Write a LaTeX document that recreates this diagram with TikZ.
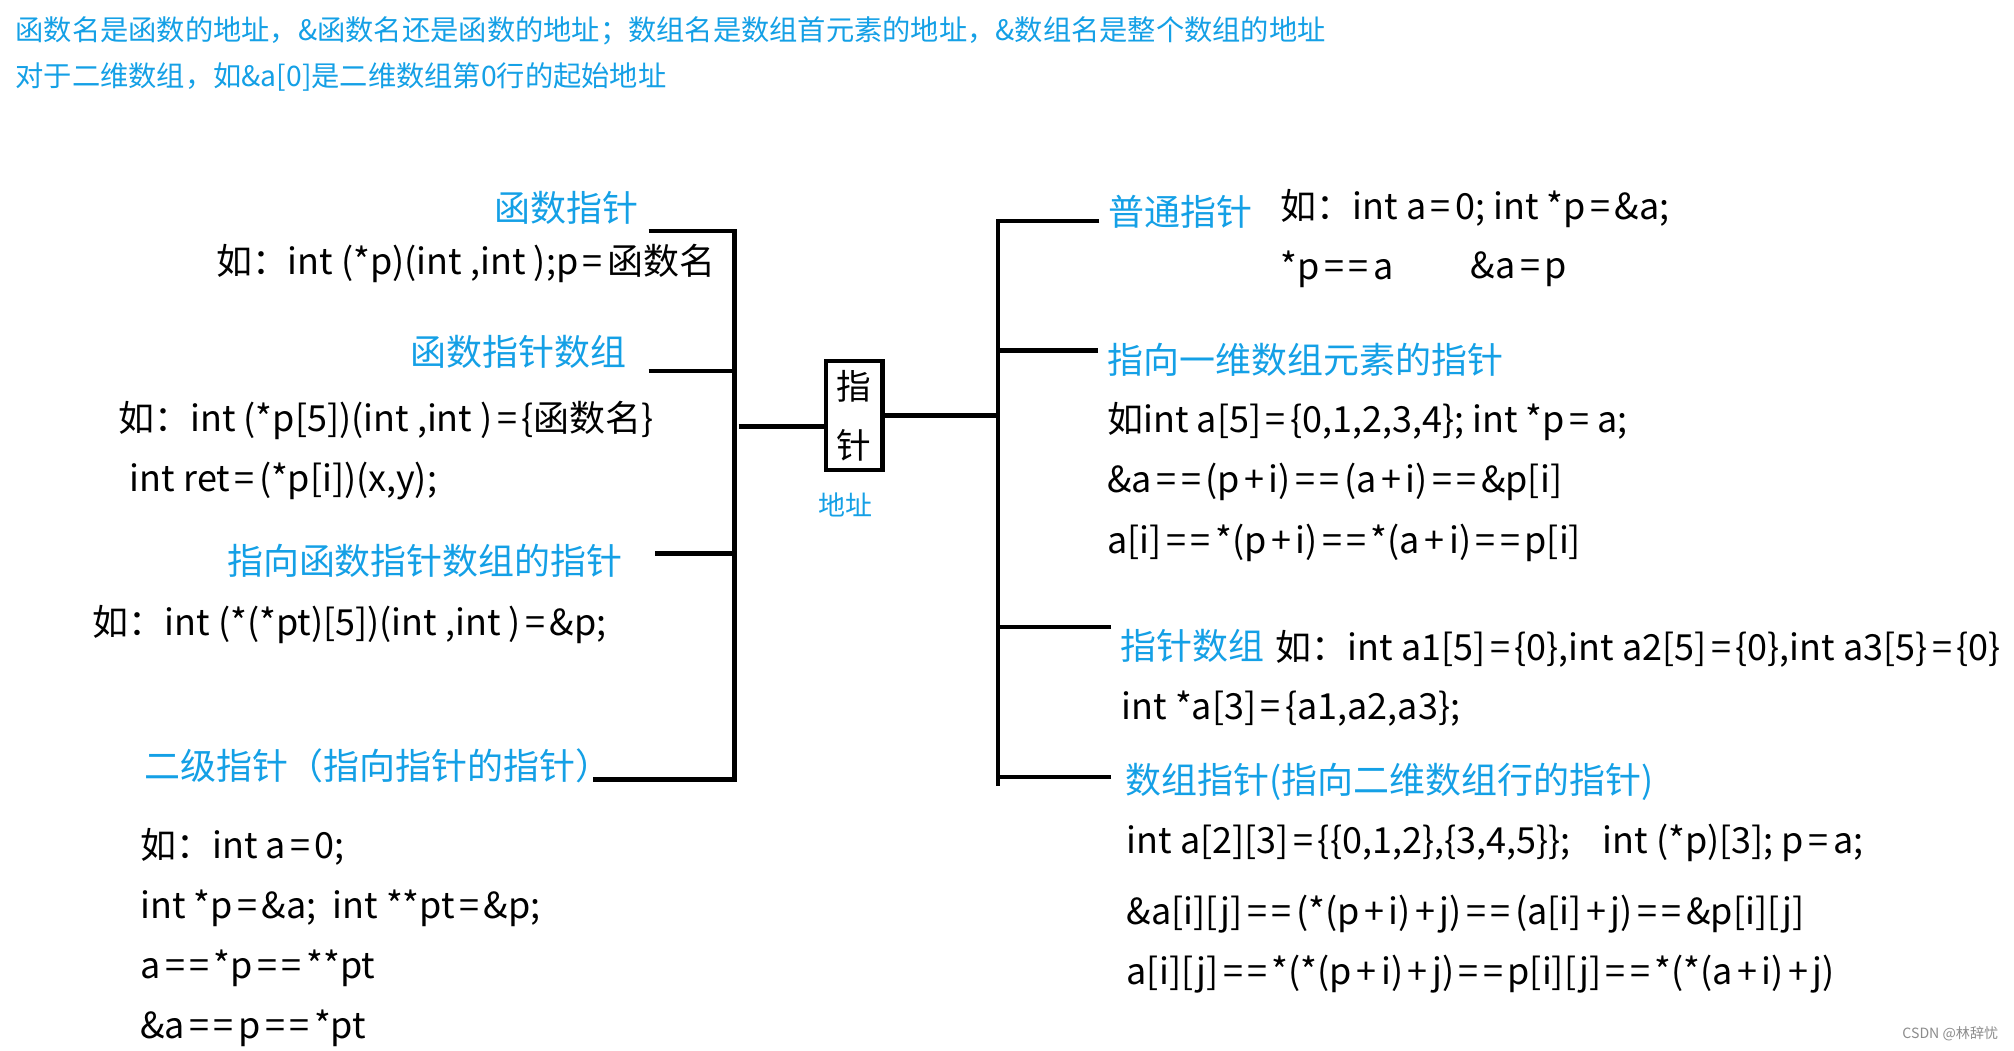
\documentclass[tikz,border=0pt]{standalone}
\usepackage{fontspec}
\setmainfont{Noto Sans CJK SC}
\definecolor{cblue}{RGB}{20,160,230}
\newXeTeXintercharclass\myeqclass
\XeTeXcharclass`\= \myeqclass
\XeTeXcharclass`\+ \myeqclass
\XeTeXinterchartoks 0 \myeqclass = {\hspace{3.5pt}}
\XeTeXinterchartoks \myeqclass 0 = {\hspace{3.5pt}}
\XeTeXinterchartoks \myeqclass \myeqclass = {\hspace{3.5pt}}
\newcommand\wideeq{\XeTeXinterchartokenstate=1 }
\begin{document}
\begin{tikzpicture}[x=1pt,y=1pt,
  tx/.style={anchor=west, inner sep=0pt, yshift=-2.5pt, font=\fontsize{28}{30}\selectfont\wideeq},
  bl/.style={anchor=west, inner sep=0pt, text=cblue, font=\fontsize{28}{30}\selectfont},
  hd/.style={anchor=west, inner sep=0pt, text=cblue, font=\fontsize{22}{24}\selectfont},
  ln/.style={line width=3.5pt}]
\useasboundingbox[fill=white] (0,0) rectangle (1568,-818);
% header
\node[hd] (h1) at (12,-24) {函数名是函数的地址，\&函数名还是函数的地址；数组名是数组首元素的地址，\&数组名是整个数组的地址};
\node[hd] (h2) at (12,-60) {对于二维数组，如\&a[0]是二维数组第0行的起始地址};
% left side
\node[bl, anchor=east] (l1t) at (497,-162) {函数指针};
\node[tx] (l1e) at (168,-203) {如：int (*p)(int ,int );p=函数名};
\node[bl, anchor=east] (l2t) at (488,-274) {函数指针数组};
\node[tx] (l2e) at (92,-325) {如：int (*p[5])(int ,int )=\{函数名\}};
\node[tx] (l2f) at (101,-372) {int ret=(*p[i])(x,y);};
\node[bl, anchor=east] (l3t) at (485,-437) {指向函数指针数组的指针};
\node[tx] (l3e) at (72,-484) {如：int (*(*pt)[5])(int ,int )=\&p;};
\node[bl] (l4t) at (112,-596) {二级指针（指向指针的指针）};
\node[tx] (l4e1) at (109,-657) {如：int a=0;};
\node[tx] (l4e2) at (109,-705) {int *p=\&a;\ \ int **pt=\&p;};
\node[tx] (l4e3) at (109,-751) {a==*p==**pt};
\node[tx] (l4e4) at (109,-798) {\&a==p==*pt};
% center box
\node[draw, line width=3.5pt, minimum width=44pt, minimum height=85pt, inner sep=0pt,
      align=center, font=\fontsize{27}{46}\selectfont] (box) at (665,-323.5) {指\\针};
\node[font=\fontsize{21}{24}\selectfont, text=cblue, inner sep=0pt] (addr) at (658,-393) {地址};
% right side
\node[bl] (r1t) at (863,-165) {普通指针};
\node[tx] (r1e) at (997,-160) {如：int a=0; int *p=\&a;};
\node[tx] (r1f) at (997,-207) {*p==a};
\node[tx] (r1g) at (1145,-207) {\&a=p};
\node[bl] (r2t) at (862,-280) {指向一维数组元素的指针};
\node[tx] (r2e) at (862,-326) {如int a[5]=\{0,1,2,3,4\}; int *p= a;};
\node[tx] (r2f) at (862,-373) {\&a==(p+i)==(a+i)==\&p[i]};
\node[tx] (r2g) at (862,-420) {a[i]==*(p+i)==*(a+i)==p[i]};
\node[bl] (r3t) at (872,-503) {指针数组};
\node[tx] (r3e) at (993,-503) {如：int a1[5]=\{0\},int a2[5]=\{0\},int a3[5\}=\{0\}};
\node[tx] (r3f) at (873,-549) {int *a[3]=\{a1,a2,a3\};};
\node[bl] (r4t) at (876,-609) {数组指针(指向二维数组行的指针)};
\node[tx] (r4e) at (877,-654) {int a[2][3]=\{\{0,1,2\},\{3,4,5\}\};\ \ \ \ int (*p)[3]; p=a;};
\node[tx] (r4f) at (877,-709) {\&a[i][j]==(*(p+i)+j)==(a[i]+j)==\&p[i][j]};
\node[tx] (r4g) at (877,-756) {a[i][j]==*(*(p+i)+j)==p[i][j]==*(*(a+i)+j)};
\node[anchor=east, inner sep=0pt, text=black!45, font=\fontsize{11}{12}\selectfont] (wm) at (1556,-805) {CSDN @林辞忧};
% left bracket
\coordinate (vLt) at (572,-180);
\coordinate (vLb) at (572,-607);
\coordinate (L1) at (505,-180);
\coordinate (L2) at (505,-289);
\coordinate (L3) at (510,-431);
\coordinate (L4) at (462,-607);
\coordinate (LJ) at (575,-332);
\draw[ln] (L1) -- (vLt) -- (vLb) -- (L4);
\draw[ln] (L2) -- (L2 -| vLt);
\draw[ln] (L3) -- (L3 -| vLt);
\draw[ln] (LJ) -- (LJ -| box.west);
% right bracket
\coordinate (vRt) at (777,-172);
\coordinate (vRb) at (777,-612);
\coordinate (R1) at (856,-172);
\coordinate (R2) at (855,-273);
\coordinate (R3) at (865,-488);
\coordinate (R4) at (865,-605);
\draw[ln] (R1) -- (vRt) -- (vRb);
\draw[ln] (R2) -- (R2 -| vRt);
\draw[ln] (R3) -- (R3 -| vRt);
\draw[ln] (R4) -- (R4 -| vRt);
\draw[ln] (box.east) -- (box.east -| vRt);
\end{tikzpicture}
\end{document}
